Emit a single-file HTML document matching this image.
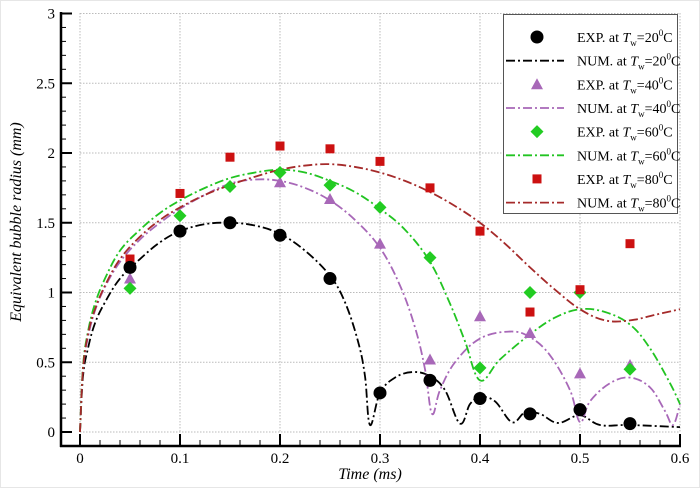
<!DOCTYPE html>
<html><head><meta charset="utf-8"><style>
body{margin:0;background:#fff}
svg{display:block;font-family:"Liberation Serif",serif}
</style></head><body>
<svg id="s" width="700" height="488" viewBox="0 0 700 488" xmlns="http://www.w3.org/2000/svg">
<rect x="0.5" y="0.5" width="699" height="487" fill="#fff" stroke="#ccc" stroke-dasharray="1,1"/>
<g id="grid" stroke="#bbb" stroke-width="1" stroke-dasharray="1.5,1.5"></g>
<g id="axes" stroke="#000"></g>
<g id="curves" fill="none" stroke-width="1.8" stroke-dasharray="9,3,2,3"></g>
<g id="marks"></g>
<g font-size="15" fill="#000" id="labels"></g>
<text x="370" y="479" font-size="16" font-style="italic" text-anchor="middle">Time (ms)</text>
<text transform="translate(21,222) rotate(-90)" font-size="16" font-style="italic" text-anchor="middle">Equivalent bubble radius (mm)</text>
<rect x="503.5" y="14.5" width="174" height="199" fill="#fff" stroke="#555" stroke-width="1"/>
<g id="legend" font-size="14"></g>
</svg>
<script>
const NS="http://www.w3.org/2000/svg";
const X=t=>80+t*1000, Y=v=>432-v*139.5;
function el(p,tag,a,txt){const e=document.createElementNS(NS,tag);for(const k in a)e.setAttribute(k,a[k]);if(txt!=null)e.innerHTML=txt;document.getElementById(p).appendChild(e);return e;}
// grid
for(let i=0;i<=6;i++){el('grid','line',{x1:X(i/10),x2:X(i/10),y1:13,y2:432});}
for(let i=0;i<=6;i++){el('grid','line',{x1:80,x2:680,y1:Y(i/2),y2:Y(i/2)});}
// axes
el('axes','line',{x1:61,x2:61,y1:12,y2:447,'stroke-width':2.5});
el('axes','line',{x1:60,x2:681,y1:446,y2:446,'stroke-width':2.5});
for(let i=0;i<=30;i++){const y=Y(i/10);const maj=i%5==0;el('axes','line',{x1:61,x2:maj?72:66,y1:y,y2:y,'stroke-width':maj?2:1});}
for(let i=0;i<=30;i++){const x=X(i/50);const maj=i%5==0;el('axes','line',{x1:x,x2:x,y1:446,y2:maj?434:440,'stroke-width':maj?2:1});}
['0','0.5','1','1.5','2','2.5','3'].forEach((s,i)=>el('labels','text',{x:55,y:Y(i/2)+5,'text-anchor':'end'},s));
['0','0.1','0.2','0.3','0.4','0.5','0.6'].forEach((s,i)=>el('labels','text',{x:X(i/10),y:463,'text-anchor':'middle'},s));
function path(pts){
 const P=pts.map(p=>[X(p[0]),Y(p[1])]);let d='M'+P[0][0]+','+P[0][1];
 for(let i=0;i<P.length-1;i++){const p0=P[i-1]||P[i],p1=P[i],p2=P[i+1],p3=P[i+2]||p2;
  const k=0.18;d+=' C'+(p1[0]+(p2[0]-p0[0])*k)+','+(p1[1]+(p2[1]-p0[1])*k)+' '+(p2[0]-(p3[0]-p1[0])*k)+','+(p2[1]-(p3[1]-p1[1])*k)+' '+p2[0]+','+p2[1];}
 return d;}
const rise=(s)=>[[0,0],[0.003,0.45*s],[0.008,0.68*s],[0.015,0.85*s],[0.025,1.0*s],[0.04,1.15*s],[0.06,1.28*s]];
const C={
 black:['#000',[[0,0],[0.003,0.4],[0.008,0.6],[0.015,0.78],[0.025,0.93],[0.04,1.1],[0.06,1.24],[0.08,1.36],[0.1,1.44],[0.125,1.49],[0.15,1.5],[0.175,1.48],[0.2,1.42],[0.225,1.3],[0.25,1.12],[0.265,0.93],[0.278,0.65],[0.285,0.4],[0.29,0.05],[0.3,0.28],[0.315,0.39],[0.333,0.43],[0.35,0.4],[0.365,0.3],[0.38,0.06],[0.39,0.2],[0.4,0.25],[0.415,0.22],[0.432,0.07],[0.445,0.14],[0.46,0.13],[0.478,0.065],[0.5,0.12],[0.52,0.05],[0.55,0.05],[0.6,0.035]]],
 purple:['#a868b8',[[0,0],[0.003,0.45],[0.008,0.68],[0.015,0.87],[0.025,1.04],[0.04,1.22],[0.06,1.38],[0.08,1.5],[0.1,1.6],[0.125,1.7],[0.15,1.78],[0.175,1.81],[0.2,1.8],[0.225,1.75],[0.25,1.66],[0.275,1.52],[0.3,1.32],[0.32,1.05],[0.335,0.75],[0.345,0.45],[0.352,0.13],[0.36,0.3],[0.375,0.5],[0.4,0.67],[0.43,0.72],[0.45,0.68],[0.47,0.55],[0.49,0.3],[0.5,0.07],[0.51,0.22],[0.53,0.35],[0.55,0.39],[0.57,0.32],[0.585,0.15],[0.593,0.05],[0.6,0.2]]],
 green:['#22c422',[[0,0],[0.003,0.47],[0.008,0.72],[0.015,0.92],[0.025,1.1],[0.04,1.3],[0.06,1.45],[0.08,1.57],[0.1,1.66],[0.125,1.75],[0.15,1.82],[0.175,1.86],[0.2,1.88],[0.225,1.86],[0.25,1.8],[0.275,1.72],[0.3,1.6],[0.325,1.45],[0.35,1.22],[0.37,0.92],[0.385,0.65],[0.4,0.37],[0.42,0.52],[0.45,0.7],[0.475,0.82],[0.5,0.88],[0.525,0.86],[0.55,0.77],[0.57,0.6],[0.59,0.35],[0.6,0.2]]],
 red:['#a52a2a',[[0,0],[0.003,0.45],[0.008,0.7],[0.015,0.88],[0.025,1.05],[0.04,1.24],[0.06,1.4],[0.08,1.52],[0.1,1.61],[0.125,1.7],[0.15,1.77],[0.175,1.83],[0.2,1.88],[0.225,1.91],[0.25,1.92],[0.275,1.9],[0.3,1.86],[0.325,1.8],[0.35,1.72],[0.375,1.62],[0.4,1.5],[0.425,1.35],[0.45,1.18],[0.475,1.02],[0.5,0.88],[0.525,0.8],[0.55,0.8],[0.575,0.84],[0.6,0.88]]]
};
for(const k in C) el('curves','path',{d:path(C[k][1]),stroke:C[k][0]});
function mark(g,type,x,y){
 if(type=='c')el(g,'circle',{cx:x,cy:y,r:6.5,fill:'#000'});
 if(type=='t')el(g,'polygon',{points:`${x},${y-6} ${x+6},${y+5} ${x-6},${y+5}`,fill:'#a868b8'});
 if(type=='d')el(g,'polygon',{points:`${x},${y-6.5} ${x+6.5},${y} ${x},${y+6.5} ${x-6.5},${y}`,fill:'#22cc22'});
 if(type=='s')el(g,'rect',{x:x-4.5,y:y-4.5,width:9,height:9,fill:'#cc1111'});
}
const T=[0.05,0.1,0.15,0.2,0.25,0.3,0.35,0.4,0.45,0.5,0.55];
const E={
 t:[1.1,null,null,1.79,1.67,1.35,0.52,0.83,0.71,0.42,0.48],
 d:[1.03,1.55,1.76,1.86,1.77,1.61,1.25,0.46,1.0,1.0,0.45],
 s:[1.24,1.71,1.97,2.05,2.03,1.94,1.75,1.44,0.86,1.02,1.35],
 c:[1.18,1.44,1.5,1.41,1.1,0.28,0.37,0.24,0.13,0.16,0.06]
};
for(const k in E)E[k].forEach((v,i)=>{if(v!=null)mark('marks',k,X(T[i]),Y(v));});
// legend
const L=[['c','#000','20'],['t','#a868b8','40'],['d','#22c422','60'],['s','#a52a2a','80']];
L.forEach((l,i)=>{
 const y1=37+i*47.3,y2=y1+23.7;
 mark('legend',l[0],537,y1);
 el('legend','line',{x1:506,x2:564,y1:y2,y2:y2,stroke:l[1],'stroke-width':1.8,'stroke-dasharray':'9,3,2,3'});
 el('legend','text',{x:577,y:y1+5},`EXP. at <tspan font-style="italic">T</tspan><tspan font-size="9" dy="4">w</tspan><tspan dy="-4">=${l[2]}</tspan><tspan font-size="9" dy="-6">0</tspan><tspan dy="6">C</tspan>`);
 el('legend','text',{x:577,y:y2+5},`NUM. at <tspan font-style="italic">T</tspan><tspan font-size="9" dy="4">w</tspan><tspan dy="-4">=${l[2]}</tspan><tspan font-size="9" dy="-6">0</tspan><tspan dy="6">C</tspan>`);
});
</script>
</body></html>
